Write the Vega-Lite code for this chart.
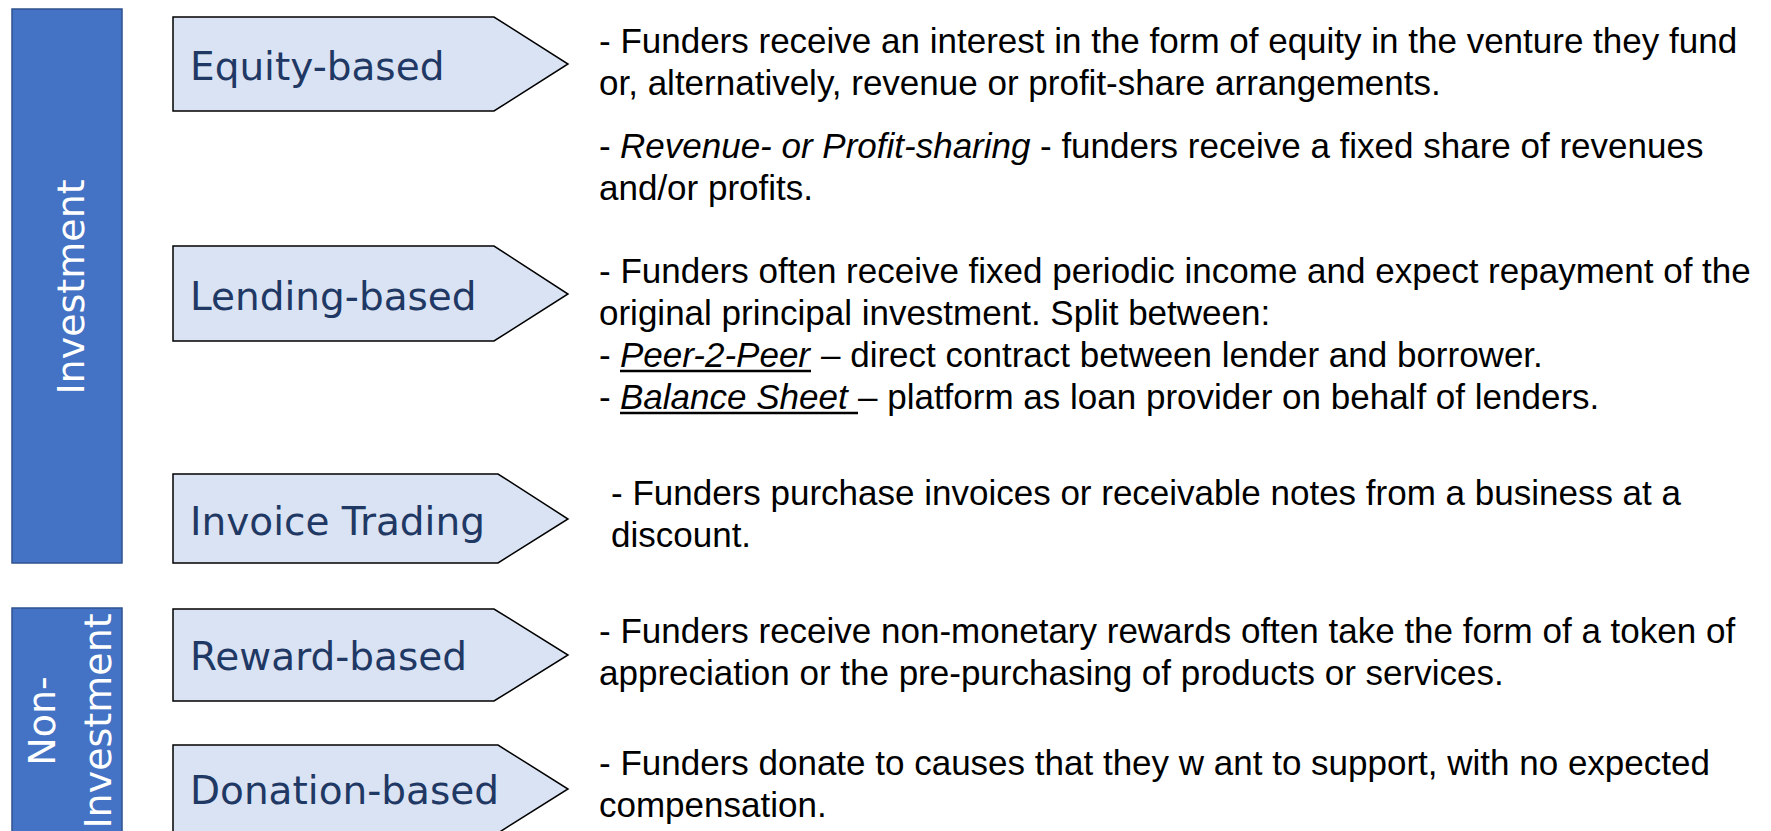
{
  "$schema": "https://vega.github.io/schema/vega-lite/v6.json",
  "width": 1771,
  "height": 831,
  "padding": 0,
  "autosize": {"type": "fit", "contains": "padding"},
  "background": "white",
  "config": {"view": {"stroke": null}},
  "datasets": {
    "groups": [
      {"group": "Investment", "x0": 12, "x1": 122, "y0": 9, "y1": 563},
      {"group": "Non-Investment", "x0": 12, "x1": 122, "y0": 608, "y1": 845}
    ],
    "groupLabels": [
      {"label": "Investment", "lx": 84, "ly": 287},
      {"label": "Non-\nInvestment", "lx": 55, "ly": 721}
    ],
    "boxes": [
      {"box": "Equity-based", "v": 1, "px": 173, "py": 17},
      {"box": "Equity-based", "v": 2, "px": 494, "py": 17},
      {"box": "Equity-based", "v": 3, "px": 568, "py": 64},
      {"box": "Equity-based", "v": 4, "px": 494, "py": 111},
      {"box": "Equity-based", "v": 5, "px": 173, "py": 111},
      {"box": "Lending-based", "v": 1, "px": 173, "py": 246},
      {"box": "Lending-based", "v": 2, "px": 494, "py": 246},
      {"box": "Lending-based", "v": 3, "px": 568, "py": 294},
      {"box": "Lending-based", "v": 4, "px": 494, "py": 341},
      {"box": "Lending-based", "v": 5, "px": 173, "py": 341},
      {"box": "Invoice Trading", "v": 1, "px": 173, "py": 474},
      {"box": "Invoice Trading", "v": 2, "px": 498, "py": 474},
      {"box": "Invoice Trading", "v": 3, "px": 568, "py": 519},
      {"box": "Invoice Trading", "v": 4, "px": 498, "py": 563},
      {"box": "Invoice Trading", "v": 5, "px": 173, "py": 563},
      {"box": "Reward-based", "v": 1, "px": 173, "py": 609},
      {"box": "Reward-based", "v": 2, "px": 494, "py": 609},
      {"box": "Reward-based", "v": 3, "px": 568, "py": 655},
      {"box": "Reward-based", "v": 4, "px": 494, "py": 701},
      {"box": "Reward-based", "v": 5, "px": 173, "py": 701},
      {"box": "Donation-based", "v": 1, "px": 173, "py": 745},
      {"box": "Donation-based", "v": 2, "px": 498, "py": 745},
      {"box": "Donation-based", "v": 3, "px": 568, "py": 789},
      {"box": "Donation-based", "v": 4, "px": 498, "py": 833},
      {"box": "Donation-based", "v": 5, "px": 173, "py": 833}
    ],
    "boxLabels": [
      {"box": "Equity-based", "lx": 190, "ly": 80},
      {"box": "Lending-based", "lx": 190, "ly": 310},
      {"box": "Invoice Trading", "lx": 190, "ly": 535},
      {"box": "Reward-based", "lx": 190, "ly": 670},
      {"box": "Donation-based", "lx": 190, "ly": 804}
    ],
    "desc": [
      {"kind": "plain", "tx": 599, "ty": 53, "text": "- Funders receive an interest in the form of equity in the venture they fund"},
      {"kind": "plain", "tx": 599, "ty": 95, "text": "or, alternatively, revenue or profit-share arrangements."},
      {"kind": "plain", "tx": 599, "ty": 158, "text": "- "},
      {"kind": "term", "tx": 620, "ty": 158, "text": "Revenue- or Profit-sharing"},
      {"kind": "plain", "tx": 1040, "ty": 158, "text": "- funders receive a fixed share of revenues"},
      {"kind": "plain", "tx": 599, "ty": 200, "text": "and/or profits."},
      {"kind": "plain", "tx": 599, "ty": 283, "text": "- Funders often receive fixed periodic income and expect repayment of the"},
      {"kind": "plain", "tx": 599, "ty": 325, "text": "original principal investment. Split between:"},
      {"kind": "plain", "tx": 599, "ty": 367, "text": "- "},
      {"kind": "term", "tx": 620, "ty": 367, "text": "Peer-2-Peer"},
      {"kind": "plain", "tx": 821, "ty": 367, "text": "– direct contract between lender and borrower."},
      {"kind": "plain", "tx": 599, "ty": 409, "text": "- "},
      {"kind": "term", "tx": 620, "ty": 409, "text": "Balance Sheet"},
      {"kind": "plain", "tx": 858, "ty": 409, "text": "– platform as loan provider on behalf of lenders."},
      {"kind": "plain", "tx": 611, "ty": 505, "text": "- Funders purchase invoices or receivable notes from a business at a"},
      {"kind": "plain", "tx": 611, "ty": 547, "text": "discount."},
      {"kind": "plain", "tx": 599, "ty": 643, "text": "- Funders receive non-monetary rewards often take the form of a token of"},
      {"kind": "plain", "tx": 599, "ty": 685, "text": "appreciation or the pre-purchasing of products or services."},
      {"kind": "plain", "tx": 599, "ty": 775, "text": "- Funders donate to causes that they w ant to support, with no expected"},
      {"kind": "plain", "tx": 599, "ty": 817, "text": "compensation."}
    ],
    "underlines": [
      {"term": "Peer-2-Peer", "ux": 620, "ux2": 811, "uy": 371},
      {"term": "Balance Sheet", "ux": 620, "ux2": 858, "uy": 413}
    ]
  },
  "layer": [
    {
      "data": {"name": "groups"},
      "mark": {"type": "rect", "fill": "#4472C4", "stroke": "#2F528F", "strokeWidth": 1.5, "clip": true},
      "encoding": {
        "x": {"field": "x0", "type": "quantitative", "scale": {"domain": [0, 1771], "nice": false, "zero": false}, "axis": null},
        "x2": {"field": "x1"},
        "y": {"field": "y0", "type": "quantitative", "scale": {"domain": [0, 831], "nice": false, "zero": false, "reverse": true}, "axis": null},
        "y2": {"field": "y1"}
      }
    },
    {
      "data": {"name": "groupLabels"},
      "mark": {"type": "text", "angle": 270, "align": "center", "baseline": "alphabetic", "font": "DejaVu Sans", "fontSize": 38, "color": "white", "lineBreak": "\n", "lineHeight": 56},
      "encoding": {
        "x": {"field": "lx", "type": "quantitative"},
        "y": {"field": "ly", "type": "quantitative"},
        "text": {"field": "label"}
      }
    },
    {
      "data": {"name": "boxes"},
      "mark": {"type": "line", "interpolate": "linear-closed", "fill": "#DAE3F3", "stroke": "#000000", "strokeWidth": 1.5, "clip": true},
      "encoding": {
        "x": {"field": "px", "type": "quantitative"},
        "y": {"field": "py", "type": "quantitative"},
        "detail": {"field": "box"},
        "order": {"field": "v", "type": "quantitative"}
      }
    },
    {
      "data": {"name": "boxLabels"},
      "mark": {"type": "text", "align": "left", "baseline": "alphabetic", "font": "DejaVu Sans", "fontSize": 39, "color": "#1F3864"},
      "encoding": {
        "x": {"field": "lx", "type": "quantitative"},
        "y": {"field": "ly", "type": "quantitative"},
        "text": {"field": "box"}
      }
    },
    {
      "data": {"name": "desc"},
      "transform": [{"filter": "datum.kind == 'plain'"}],
      "mark": {"type": "text", "align": "left", "baseline": "alphabetic", "font": "Liberation Sans", "fontSize": 35, "color": "#000000"},
      "encoding": {
        "x": {"field": "tx", "type": "quantitative"},
        "y": {"field": "ty", "type": "quantitative"},
        "text": {"field": "text"}
      }
    },
    {
      "data": {"name": "desc"},
      "transform": [{"filter": "datum.kind == 'term'"}],
      "mark": {"type": "text", "align": "left", "baseline": "alphabetic", "font": "Liberation Sans", "fontSize": 35, "fontStyle": "italic", "color": "#000000"},
      "encoding": {
        "x": {"field": "tx", "type": "quantitative"},
        "y": {"field": "ty", "type": "quantitative"},
        "text": {"field": "text"}
      }
    },
    {
      "data": {"name": "underlines"},
      "mark": {"type": "rule", "stroke": "#000000", "strokeWidth": 2.5},
      "encoding": {
        "x": {"field": "ux", "type": "quantitative"},
        "x2": {"field": "ux2"},
        "y": {"field": "uy", "type": "quantitative"}
      }
    }
  ]
}
